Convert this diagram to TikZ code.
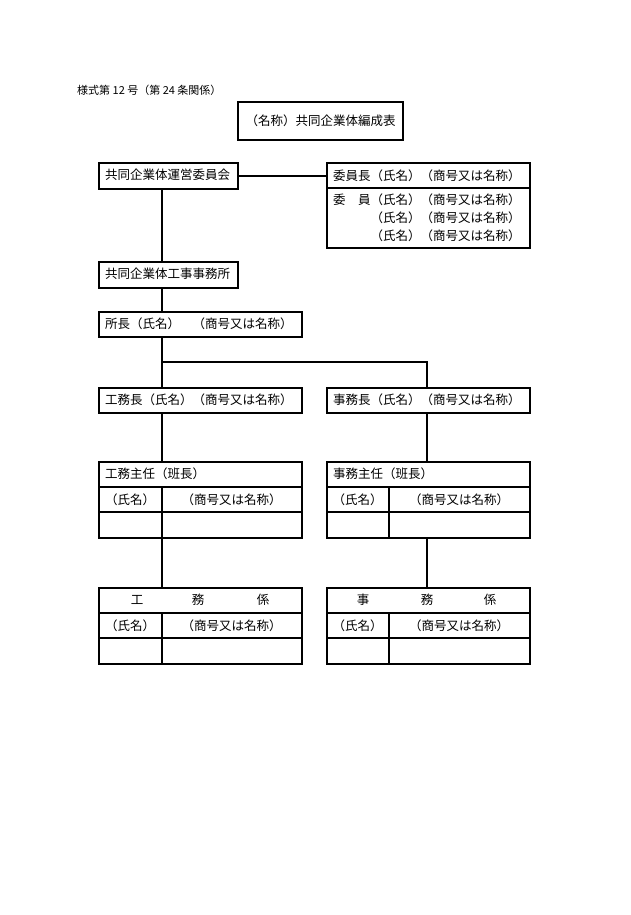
\documentclass[tikz,border=0pt]{standalone}
\usepackage{fontspec}
\setmainfont{Noto Sans CJK JP}
\begin{document}
\begin{tikzpicture}[x=1pt,y=-1pt,
  frame/.style={draw, line width=1.8pt, rectangle, inner sep=0pt, anchor=north west},
  lbl/.style={anchor=west, inner sep=0pt, font=\fontsize{12.5}{14}\selectfont},
  ctr/.style={inner sep=0pt, font=\fontsize{12.5}{14}\selectfont},
  wire/.style={line width=1.8pt}]
\useasboundingbox (0,0) rectangle (630,915);

% header
\node[anchor=west, inner sep=0pt, font=\fontsize{11}{13}\selectfont] (hd) at (77,90) {様式第 12 号（第 24 条関係）};

% title
\node[frame, line width=2.2pt, minimum width=165pt, minimum height=38pt] (title) at (237,101) {};
\node[ctr] (titlet) at (title.center) {（名称）共同企業体編成表};

% committee
\node[frame, minimum width=139pt, minimum height=26pt] (c1) at (98,162) {};
\node[lbl] (c1t) at (105,175) {共同企業体運営委員会};

% members box
\node[frame, minimum width=203pt, minimum height=85pt] (R) at (326,162) {};
\draw[wire] (326,188) -- (529,188);
\node[lbl] (r1) at (333,176) {委員長（氏名）（商号又は名称）};
\node[lbl] (r2a) at (333,200) {委　員};
\node[lbl] (r2) at (370.5,200) {（氏名）（商号又は名称）};
\node[lbl] (r3) at (370.5,218) {（氏名）（商号又は名称）};
\node[lbl] (r4) at (370.5,236) {（氏名）（商号又は名称）};

% office
\node[frame, minimum width=139pt, minimum height=26pt] (O) at (98,261) {};
\node[lbl] (Ot) at (105,274) {共同企業体工事事務所};

% chief
\node[frame, minimum width=203pt, minimum height=25pt] (P) at (98,311) {};
\node[lbl] (Pt) at (105,323.5) {所長（氏名）　（商号又は名称）};

% heads
\node[frame, minimum width=203pt, minimum height=25pt] (K1) at (98,387) {};
\node[lbl] (K1t) at (105,399.5) {工務長（氏名）（商号又は名称）};
\node[frame, minimum width=203pt, minimum height=25pt] (J1) at (326,387) {};
\node[lbl] (J1t) at (333,399.5) {事務長（氏名）（商号又は名称）};

% supervisor tables
\node[frame, minimum width=203pt, minimum height=76pt] (K2) at (98,461) {};
\draw[wire] (98,487) -- (301,487) (98,512) -- (301,512) (162,487) -- (162,537);
\node[lbl] (K2t) at (105,474) {工務主任（班長）};
\node[ctr] (K2a) at (130,500) {（氏名）};
\node[ctr] (K2b) at (231.5,500) {（商号又は名称）};

\node[frame, minimum width=203pt, minimum height=76pt] (J2) at (326,461) {};
\draw[wire] (326,487) -- (529,487) (326,512) -- (529,512) (389,487) -- (389,537);
\node[lbl] (J2t) at (333,474) {事務主任（班長）};
\node[ctr] (J2a) at (357.5,500) {（氏名）};
\node[ctr] (J2b) at (459,500) {（商号又は名称）};

% staff tables
\node[frame, minimum width=203pt, minimum height=76pt] (K3) at (98,587) {};
\draw[wire] (98,613) -- (301,613) (98,638) -- (301,638) (162,613) -- (162,663);
\node[ctr] (K3a) at (137,600) {工};
\node[ctr] (K3b) at (198,600) {務};
\node[ctr] (K3c) at (263,600) {係};
\node[ctr] (K3d) at (130,626) {（氏名）};
\node[ctr] (K3e) at (231.5,626) {（商号又は名称）};

\node[frame, minimum width=203pt, minimum height=76pt] (J3) at (326,587) {};
\draw[wire] (326,613) -- (529,613) (326,638) -- (529,638) (389,613) -- (389,663);
\node[ctr] (J3a) at (363,600) {事};
\node[ctr] (J3b) at (427,600) {務};
\node[ctr] (J3c) at (490,600) {係};
\node[ctr] (J3d) at (357.5,626) {（氏名）};
\node[ctr] (J3e) at (459,626) {（商号又は名称）};

% connectors
\coordinate (sp) at (162,0);
\coordinate (sq) at (427,0);
\coordinate (brL) at (162,362);
\coordinate (brR) at (427,362);
\draw[wire] (c1.east) -- (c1.east -| R.west);
\draw[wire] (c1.south -| sp) -- (O.north -| sp);
\draw[wire] (O.south -| sp) -- (P.north -| sp);
\draw[wire] (P.south -| sp) -- (K1.north -| sp);
\draw[wire] (brL) -- (brR) -- (J1.north -| sq);
\draw[wire] (K1.south -| sp) -- (K2.north -| sp);
\draw[wire] (K2.south -| sp) -- (K3.north -| sp);
\draw[wire] (J1.south -| sq) -- (J2.north -| sq);
\draw[wire] (J2.south -| sq) -- (J3.north -| sq);
\end{tikzpicture}
\end{document}
